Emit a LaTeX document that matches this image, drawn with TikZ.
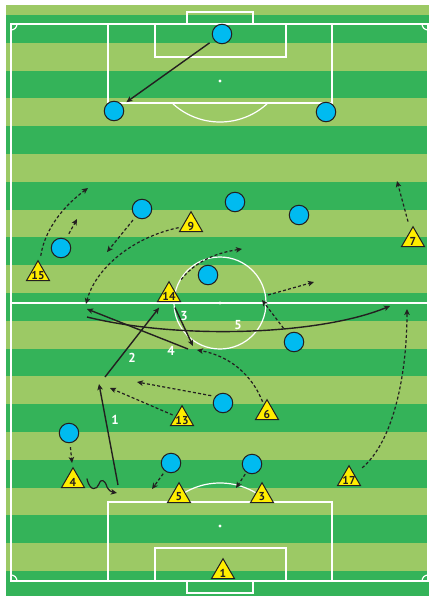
\documentclass[tikz,border=0pt]{standalone}
\usepackage{fontspec}
\setmainfont{PT Sans}
\usetikzlibrary{arrows.meta, shapes.geometric}
\definecolor{turfdark}{RGB}{52,179,89}
\definecolor{turflight}{RGB}{156,201,101}
\definecolor{oppcolor}{RGB}{0,187,240}
\definecolor{owncolor}{RGB}{255,237,0}
\definecolor{inkcolor}{RGB}{35,31,32}

\tikzset{
  opp/.style={circle, draw=inkcolor, fill=oppcolor, line width=1pt, minimum size=19.5pt, inner sep=0pt},
  own/.style={regular polygon, regular polygon sides=3, draw=inkcolor, fill=owncolor, line width=1pt,
    minimum size=26.6pt, inner sep=0pt, label={[ownnum]center:#1}},
  ownnum/.style={font=\bfseries\fontsize{11.5}{11.5}\selectfont, text=inkcolor, inner sep=0pt, yshift=-1pt},
  passnum/.style={font=\bfseries\fontsize{13}{13}\selectfont, text=white, inner sep=0pt},
  pass/.style={-{Stealth[length=6pt,width=5.5pt,inset=1.5pt]}, draw=inkcolor, line width=1.4pt},
  run/.style={pass, line width=1.2pt, dash pattern=on 3pt off 2.2pt},
  pitch/.style={draw=white, line width=1.2pt},
}

\begin{document}
\begin{tikzpicture}[x=1pt, y=-1pt]
  \useasboundingbox (0,0) rectangle (429,596);
  \fill[turflight] (6,5) rectangle (429,596);
  \begin{scope}
    \clip (6,5) rectangle (429,596);
    \foreach \k in {0,2,...,20}
      \fill[turfdark] (6,15+27.8*\k) rectangle (429,42.8+27.8*\k);
  \end{scope}

  % pitch markings
  \draw[pitch] (11,24) rectangle (428,581);
  \draw[pitch] (11,303) -- (428,303);
  \draw[pitch] (220,303) circle[radius=46];
  \draw[pitch] (108,24) rectangle (332,103);
  \draw[pitch] (155,24) rectangle (286,57);
  \draw[pitch] (187,12) rectangle (253,24);
  \draw[pitch] (108,502) rectangle (332,581);
  \draw[pitch] (155,548) rectangle (286,581);
  \draw[pitch] (187,581) rectangle (253,593);
  \fill[white] (220,303) circle[radius=1.7] (220,81) circle[radius=1.7] (220,526) circle[radius=1.7];
  \begin{scope}
    \clip (108,103) rectangle (332,140);
    \draw[pitch] (220,52) circle[radius=70];
  \end{scope}
  \begin{scope}
    \clip (108,460) rectangle (332,502);
    \draw[pitch] (220,553) circle[radius=70];
  \end{scope}
  \begin{scope}
    \clip (11,24) rectangle (428,581);
    \foreach \cx/\cy in {11/24, 428/24, 11/581, 428/581}
      \draw[pitch] (\cx,\cy) circle[radius=6];
  \end{scope}

  % opponents
  \node[opp] (o1) at (222,34) {};
  \node[opp] (o2) at (114,111) {};
  \node[opp] (o3) at (326,112) {};
  \node[opp] (o4) at (142,209) {};
  \node[opp] (o5) at (235,202) {};
  \node[opp] (o6) at (299,215) {};
  \node[opp] (o7) at (61,248) {};
  \node[opp] (o8) at (208,275) {};
  \node[opp] (o9) at (294,342) {};
  \node[opp] (o10) at (223,403) {};
  \node[opp] (o11) at (69,433) {};
  \node[opp] (o12) at (171,463) {};
  \node[opp] (o13) at (252,464) {};

  % own team
  \node[own=1] (t1) at (223,572) {};
  \node[own=3] (t3) at (262,496) {};
  \node[own=4] (t4) at (73,481) {};
  \node[own=5] (t5) at (179,496) {};
  \node[own=6] (t6) at (267,413) {};
  \node[own=7] (t7) at (413,240) {};
  \node[own=9] (t9) at (191,225) {};
  \node[own=13] (t13) at (182,419) {};
  \node[own=14] (t14) at (169,295) {};
  \node[own=15] (t15) at (38,274) {};
  \node[own=17] (t17) at (349,479) {};

  % free ends
  \coordinate (ro7) at (77,219);
  \coordinate (ro4) at (107,252);
  \coordinate (ro9) at (262,300);
  \coordinate (ro10) at (137,382);
  \coordinate (ro11) at (72,463);
  \coordinate (ro12) at (152,489);
  \coordinate (ro13) at (236,488);
  \coordinate (r15) at (88,188);
  \coordinate (r9) at (86,304);
  \coordinate (r14) at (242,249);
  \coordinate (h1) at (268,295);
  \coordinate (h2) at (314,282);
  \coordinate (r7) at (397,181);
  \coordinate (r13) at (110,388);
  \coordinate (r6) at (197,350);
  \coordinate (r17) at (407,309);
  \coordinate (dr) at (117,493);
  \coordinate (p1s) at (118,485);
  \coordinate (p1e) at (99,384);
  \coordinate (p2s) at (105,377);
  \coordinate (p3e) at (193,346);
  \coordinate (p4s) at (188,349);
  \coordinate (p4e) at (87,309);
  \coordinate (p5s) at (87,317);
  \coordinate (p5e) at (390,306);

  % opponent moves
  \draw[pass, shorten <=5pt, shorten >=5pt] (o1) -- (o2);
  \draw[run, shorten <=6pt] (o7) -- (ro7);
  \draw[run, shorten <=4pt] (o4) -- (ro4);
  \draw[run, shorten <=7pt] (o9) -- (ro9);
  \draw[run, shorten <=4pt] (o10.140) -- (ro10);
  \draw[run, shorten <=4pt] (o11) -- (ro11);
  \draw[run, shorten <=3pt] (o12) -- (ro12);
  \draw[run, shorten <=2pt] (o13) -- (ro13);

  % runs
  \draw[run, shorten <=7pt] (t15) .. controls (45,228) and (65,205) .. (r15);
  \draw[run, shorten <=3pt] (t9) .. controls (130,238) and (95,270) .. (r9);
  \draw[run, shorten <=12pt] (t14) .. controls (195,262) and (215,253) .. (r14);
  \draw[run] (h1) -- (h2);
  \draw[run, shorten <=9pt] (t7) -- (r7);
  \draw[run, shorten <=3pt] (t13) -- (r13);
  \draw[run, shorten <=3pt] (t6) .. controls (252,375) and (230,356) .. (r6);
  \draw[run, shorten <=10pt] (t17) .. controls (395,440) and (407,370) .. (r17);

  % passes
  \draw[pass, line width=1.2pt] ([xshift=7pt]t4.20) .. controls (90,492) and (97,490) .. (99,484)
    .. controls (101,478) and (105,480) .. (107,487) .. controls (109,491) and (112,492) .. (dr);
  \draw[pass] (p1s) -- (p1e);
  \draw[pass, shorten >=7pt] (p2s) -- (t14);
  \draw[pass, shorten <=6pt] (t14) -- (p3e);
  \draw[pass] (p4s) -- (p4e);
  \draw[pass] (p5s) .. controls (180,340) and (320,335) .. (p5e);

  \node[passnum] (n1) at (115,420) {1};
  \node[passnum] (n2) at (132,358) {2};
  \node[passnum] (n3) at (184,316) {3};
  \node[passnum] (n4) at (171,351) {4};
  \node[passnum] (n5) at (238,325) {5};
\end{tikzpicture}
\end{document}
